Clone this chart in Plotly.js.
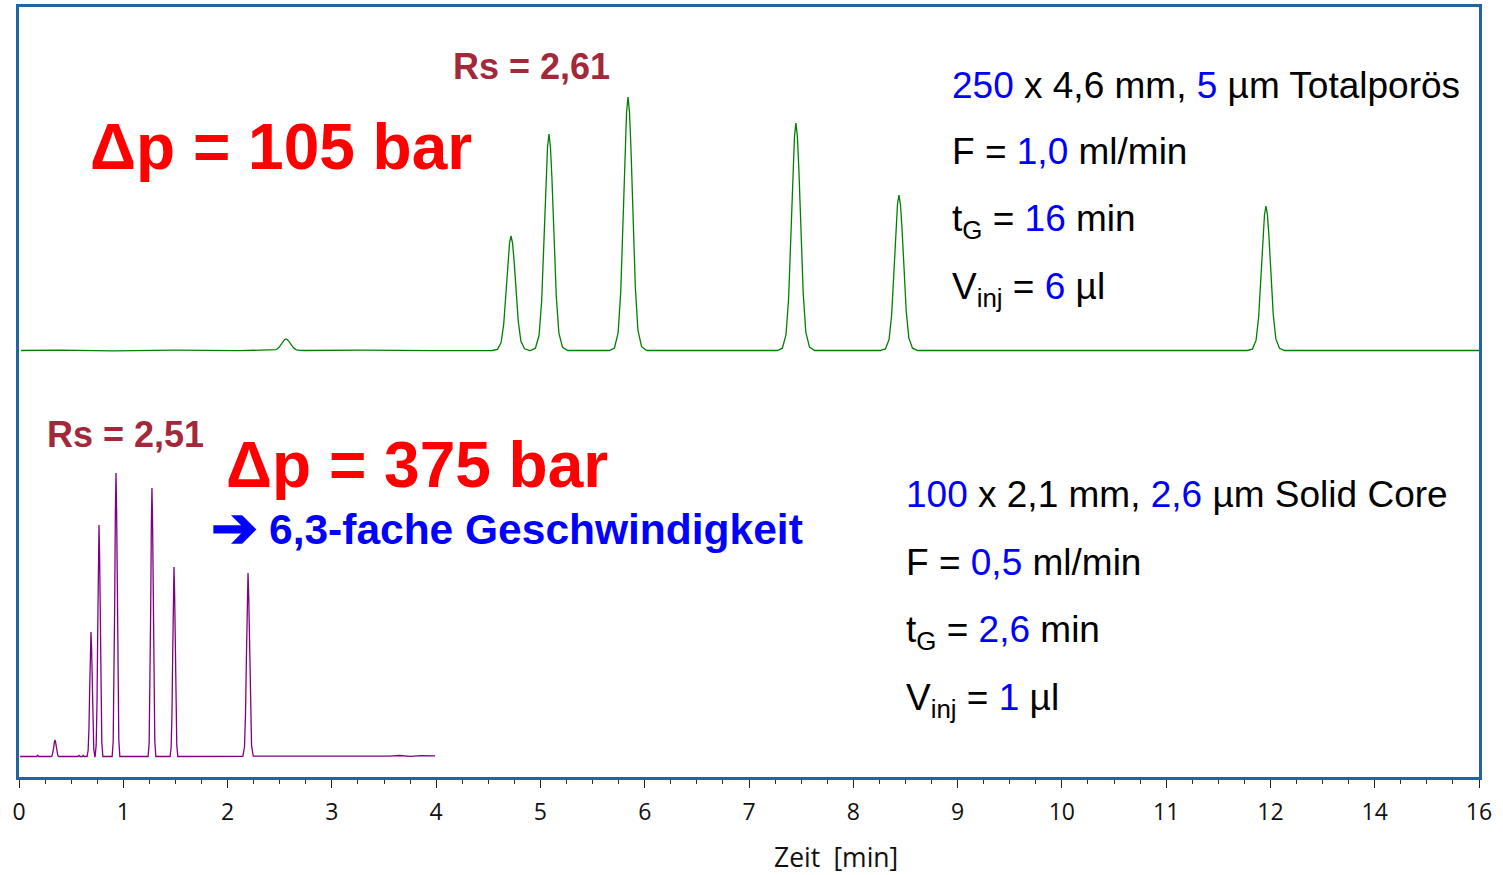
<!DOCTYPE html>
<html>
<head>
<meta charset="utf-8">
<script src="https://cdn.plot.ly/plotly-3.0.1.min.js"></script>
<style>
  html, body { margin: 0; padding: 0; background: #ffffff; }
  #chart { width: 1503px; height: 875px; }
</style>
</head>
<body>
<div id="chart"></div>
<script>
// Two gradient runs of the same sample, stacked in one frame.
// Upper: 250 x 4,6 mm fully porous column (green), offset upward.
// Lower: 100 x 2,1 mm solid core column (purple).

// time axis: tick positions and their labels (last two labelled 14 and 16)
const tickPositions = [0, 1, 2, 3, 4, 5, 6, 7, 8, 9, 10, 11, 12, 13, 14];
const tickLabels = ['0', '1', '2', '3', '4', '5', '6', '7', '8', '9', '10', '11', '12', '14', '16'];

// upper chromatogram (min / mAU above its own baseline)
const greenTime = [
  0.02, 0.4, 0.9, 1.5, 2.1,
  2.380, 2.430, 2.465, 2.490, 2.513, 2.532, 2.546, 2.560, 2.574, 2.588, 2.607, 2.630, 2.655, 2.690, 2.740,
  3.3, 4.0,
  4.538, 4.588, 4.623, 4.648, 4.671, 4.690, 4.704, 4.718, 4.732, 4.746, 4.765, 4.788, 4.813, 4.848, 4.898,
  4.902, 4.952, 4.987, 5.012, 5.035, 5.054, 5.068, 5.082, 5.096, 5.110, 5.129, 5.152, 5.177, 5.212, 5.262,
  5.660, 5.710, 5.745, 5.770, 5.793, 5.812, 5.826, 5.840, 5.854, 5.868, 5.887, 5.910, 5.935, 5.970, 6.020,
  6.8,
  7.270, 7.320, 7.355, 7.380, 7.403, 7.422, 7.436, 7.450, 7.464, 7.478, 7.497, 7.520, 7.545, 7.580, 7.630,
  8.258, 8.308, 8.343, 8.368, 8.391, 8.410, 8.424, 8.438, 8.452, 8.466, 8.485, 8.508, 8.533, 8.568, 8.618,
  10.0,
  11.777, 11.827, 11.862, 11.887, 11.910, 11.929, 11.943, 11.957, 11.971, 11.985, 12.004, 12.027, 12.052, 12.087, 12.137,
  13.2, 14.0
];
const greenSignal = [
  0, 0.4, -0.3, 0.3, -0.2,
  0, 0.1, 0.8, 2.6, 6.0, 9.1, 10.8, 11.5, 10.8, 9.2, 6.1, 2.9, 0.9, 0.2, 0,
  0.3, -0.2,
  0, 1.1, 8.0, 26.3, 59.5, 90.5, 107.6, 114.5, 107.6, 91.6, 60.7, 28.6, 9.2, 1.7, 0,
  0, 2.2, 15.2, 49.8, 112.6, 171.0, 203.5, 216.5, 203.5, 173.2, 114.7, 54.1, 17.3, 3.2, 0,
  0, 2.5, 17.7, 58.3, 131.8, 200.3, 238.3, 253.5, 238.3, 202.8, 134.4, 63.4, 20.3, 3.8, 0,
  0,
  0, 2.3, 15.9, 52.3, 118.3, 179.7, 213.9, 227.5, 213.9, 182.0, 120.6, 56.9, 18.2, 3.4, 0,
  0, 1.6, 10.9, 35.8, 80.9, 122.8, 146.2, 155.5, 146.2, 124.4, 82.4, 38.9, 12.4, 2.3, 0,
  0,
  0, 1.4, 10.1, 33.2, 75.1, 114.2, 135.8, 144.5, 135.8, 115.6, 76.6, 36.1, 11.6, 2.2, 0,
  0, 0
];
const greenOffset = 406;

// lower chromatogram (min / mAU)
const purpleTime = [
  0.01, 0.17, 0.18, 0.19, 0.25,
  0.308, 0.318, 0.326, 0.333, 0.339, 0.345, 0.351, 0.357, 0.364, 0.372, 0.382,
  0.5, 0.565, 0.575, 0.585, 0.605, 0.615, 0.625,
  0.653, 0.663, 0.671, 0.678, 0.684, 0.690, 0.696, 0.702, 0.709, 0.717, 0.727,
  0.730, 0.740, 0.748, 0.755, 0.761, 0.767, 0.773, 0.779, 0.786, 0.794, 0.804,
  0.85,
  0.893, 0.903, 0.911, 0.918, 0.924, 0.930, 0.936, 0.942, 0.949, 0.957, 0.967,
  1.1,
  1.238, 1.248, 1.256, 1.263, 1.269, 1.275, 1.281, 1.287, 1.294, 1.302, 1.312,
  1.449, 1.459, 1.467, 1.474, 1.480, 1.486, 1.492, 1.498, 1.505, 1.513, 1.523,
  1.8,
  2.146, 2.162, 2.172, 2.181, 2.189, 2.196, 2.203, 2.211, 2.220, 2.230, 2.246,
  2.6, 3.0, 3.3, 3.35, 3.45, 3.55, 3.65, 3.75, 3.85, 3.95, 3.99
];
const purpleSignal = [
  0, 0, 1.2, 0, 0,
  0, 0.8, 3.8, 9.1, 14.2, 16.5, 14.4, 9.4, 4.1, 1.0, 0,
  0, 0, 1.0, 0, 0, 1.0, 0,
  0, 6.2, 28.6, 68.5, 107.1, 124.5, 108.3, 71.0, 31.1, 7.5, 0,
  0, 11.6, 53.2, 127.3, 199.1, 231.5, 201.4, 132.0, 57.9, 13.9, 0,
  0,
  0, 14.2, 65.2, 155.9, 243.8, 283.5, 246.6, 161.6, 70.9, 17.0, 0,
  0,
  0, 13.4, 61.8, 147.7, 230.9, 268.5, 233.6, 153.0, 67.1, 16.1, 0,
  0, 9.5, 43.6, 104.2, 163.0, 189.5, 164.9, 108.0, 47.4, 11.4, 0,
  0.2,
  0.2, 9.2, 42.2, 100.9, 157.8, 183.5, 159.6, 104.6, 45.9, 11.0, 0.3,
  0.3, 0.4, 0.5, 0.2, 0.9, 0.3, 1.0, 0.2, 0.8, 0.4, 0.6
];

const BLUE = '#0000ff';
const RED = '#ff0000';
const DARKRED = '#a3283a';
const FRAME = '#2064a4';
const ARIAL = 'Liberation Sans, Arial, sans-serif';

const v = (s) => '<span style="color:' + BLUE + '">' + s + '</span>';

const traces = [
  {
    x: greenTime,
    y: greenSignal.map(s => s + greenOffset),
    type: 'scatter', mode: 'lines',
    line: { color: '#008000', width: 1.3 },
    hoverinfo: 'x'
  },
  {
    x: purpleTime,
    y: purpleSignal,
    type: 'scatter', mode: 'lines',
    line: { color: '#800080', width: 1.3 },
    hoverinfo: 'x'
  }
];

function label(text, x, y, size, color, opts) {
  return Object.assign({
    text: text, xref: 'paper', yref: 'paper', x: x, y: y,
    xanchor: 'left', yanchor: 'top', showarrow: false, align: 'left',
    font: { family: ARIAL, size: size, color: color }
  }, opts || {});
}
const bold = (size, color) => ({ font: { family: ARIAL, size: size, color: color, weight: 'bold' } });

const annotations = [
  label('Rs = 2,61', 0.351, 0.9517, 36, DARKRED, Object.assign({ xanchor: 'center' }, bold(36, DARKRED))),
  label('Δp = 105 bar', 0.047, 0.8675, 64, RED, bold(64, RED)),
  label('Rs = 2,51', 0.0729, 0.4738, 36, DARKRED, Object.assign({ xanchor: 'center' }, bold(36, DARKRED))),
  label('Δp = 375 bar', 0.1405, 0.4545, 64, RED, bold(64, RED)),
  label('➔', 0.1473, 0.3234, 56, BLUE, Object.assign({ xanchor: 'center', yanchor: 'middle' }, bold(56, BLUE))),
  label('6,3-fache Geschwindigkeit', 0.1697, 0.3550, 42.5, BLUE, bold(42.5, BLUE)),

  label(v('250') + ' x 4,6 mm, ' + v('5') + ' µm Totalporös', 0.6375, 0.9279, 37, '#000000'),
  label('F = ' + v('1,0') + ' ml/min', 0.6375, 0.8422, 37, '#000000'),
  label('t<sub>G</sub> = ' + v('16') + ' min', 0.6375, 0.7539, 37, '#000000'),
  label('V<sub>inj</sub> = ' + v('6') + ' µl', 0.6375, 0.6656, 37, '#000000'),

  label(v('100') + ' x 2,1 mm, ' + v('2,6') + ' µm Solid Core', 0.606, 0.3955, 37, '#000000'),
  label('F = ' + v('0,5') + ' ml/min', 0.606, 0.3084, 37, '#000000'),
  label('t<sub>G</sub> = ' + v('2,6') + ' min', 0.606, 0.2214, 37, '#000000'),
  label('V<sub>inj</sub> = ' + v('1') + ' µl', 0.606, 0.1331, 37, '#000000'),

  {
    text: 'Zeit\u2002[min]', xref: 'paper', yref: 'paper', x: 0.5594, y: -0.1040,
    xanchor: 'center', yanchor: 'middle', showarrow: false, borderpad: 0,
    font: { family: 'Open Sans, sans-serif', size: 26.5, color: '#111111' }
  }
];

const layout = {
  width: 1503, height: 875,
  margin: { l: 19, r: 24, t: 7, b: 98, pad: 0 },
  paper_bgcolor: '#ffffff', plot_bgcolor: '#ffffff',
  showlegend: false,
  xaxis: {
    range: [0, 14],
    tickmode: 'array', tickvals: tickPositions, ticktext: tickLabels,
    ticks: 'outside', ticklen: 8, tickwidth: 1, tickcolor: '#222222',
    ticklabelstandoff: 4,
    tickfont: { family: 'Open Sans, sans-serif', size: 23, color: '#111111' },
    minor: { tickmode: 'linear', tick0: 0, dtick: 0.25, ticks: 'outside', ticklen: 4, tickwidth: 1, tickcolor: '#333333' },
    showline: true, linecolor: FRAME, linewidth: 3, mirror: true,
    showgrid: false, zeroline: false, fixedrange: true
  },
  yaxis: {
    range: [-20.5, 749.5],
    showticklabels: false, ticks: '',
    showline: true, linecolor: FRAME, linewidth: 3, mirror: true,
    showgrid: false, zeroline: false, fixedrange: true
  },
  annotations: annotations
};

Plotly.newPlot('chart', traces, layout, { displayModeBar: false, staticPlot: true });
</script>
</body>
</html>
